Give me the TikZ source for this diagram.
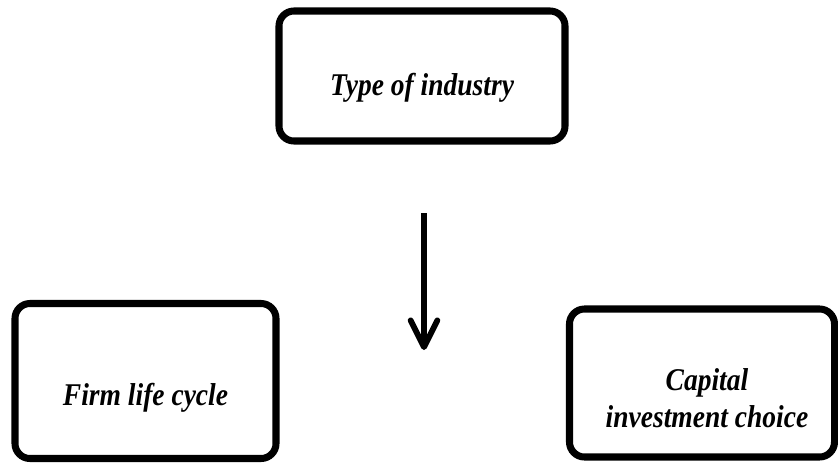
\documentclass[tikz,border=0pt]{standalone}
\usepackage{fontspec}
\setmainfont{Liberation Serif}
\usetikzlibrary{arrows.meta}
% text set low in its box, and narrow, as in the figure
\newcommand{\boxtext}[2]{\raisebox{#1}[0pt][0pt]{\scalebox{0.87}[1]{\begin{tabular}[b]{@{}c@{}}#2\end{tabular}}}}
\begin{document}
\begin{tikzpicture}[x=0.03cm,y=-0.03cm,
  box/.style={draw,line width=6pt,rounded corners=0.45cm,
    font=\fontsize{27}{31.5}\selectfont\bfseries\itshape}]
\useasboundingbox (0,0) rectangle (838,463);
\node[box,minimum width=8.58cm,minimum height=3.9cm] (industry) at (422,76) {\boxtext{-0.57cm}{Type of industry}};
\node[box,minimum width=7.83cm,minimum height=4.65cm] (lifecycle) at (145.5,381) {\boxtext{-0.72cm}{Firm life cycle}};
\node[box,minimum width=7.95cm,minimum height=4.44cm] (investment) at (702,383) {\hspace*{0.3cm}\boxtext{-1.32cm}{Capital\\investment choice}};
\coordinate (arrowtop) at (424,213);
\coordinate (arrowtip) at (424,350);
\draw[line width=5pt,-{Straight Barb[length=0.8cm,width=0.8cm,round]}] (arrowtop) -- (arrowtip);
\end{tikzpicture}
\end{document}
